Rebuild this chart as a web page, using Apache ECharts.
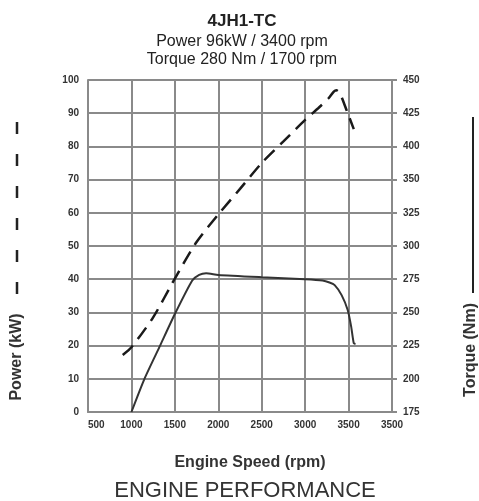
<!DOCTYPE html>
<html>
<head>
<meta charset="utf-8">
<script src="https://cdn.jsdelivr.net/npm/echarts@6/dist/echarts.min.js"></script>
<style>
html,body{margin:0;padding:0;background:#fff;}
#chart{width:479px;height:501px;}
</style>
</head>
<body>
<div id="chart"></div>
<script>
// Tick labels (as printed on the original chart)
const rpmTicks = ['500','1000','1500','2000','2500','3000','3500','3500'];
const powerTicks = ['0','10','20','30','40','50','60','70','80','90','100'];
const torqueTicks = ['175','200','225','250','275','300','325','350','400','425','450'];

// Power curve (kW) vs engine speed (rpm)
const powerRpm = [900, 1000, 1250, 1500, 1750, 2000, 2250, 2500, 2750, 3000, 3150, 3270, 3330, 3360, 3400, 3480, 3560];
const powerKw  = [17.2, 19.5, 28.5, 40.2, 51.2, 59.5, 67.2, 75.0, 81.5, 88.0, 91.5, 94.5, 96.5, 96.9, 96.0, 90.7, 85.2];

// Torque curve vs engine speed, in positions of the chart's shared vertical scale
// (right-hand torque labels are printed against the same grid lines)
const torqueRpm = [1000, 1150, 1330, 1500, 1700, 1780, 1860, 2000, 2500, 3000, 3200, 3280, 3340, 3420, 3490, 3530, 3560, 3580];
const torqueVal = [0, 10, 20, 29.5, 39.6, 41.3, 41.8, 41.3, 40.6, 40.0, 39.6, 39.0, 38.2, 35.2, 30.7, 25.7, 20.7, 20.5];

const zip = (a, b) => a.map((x, i) => [x, b[i]]);

const chart = echarts.init(document.getElementById('chart'), null, {renderer: 'canvas'});
const FONT = 'Liberation Sans, Arial, sans-serif';
const gridColor = '#8a8a8a';
const labelStyle = {color: '#333', fontSize: 10, fontWeight: 'bold', fontFamily: FONT};

chart.setOption({
  animation: false,
  backgroundColor: '#fff',
  title: [
    {text: '4JH1-TC', left: 237, top: 8, textAlign: 'center',
     textStyle: {fontSize: 17, fontWeight: 'bold', color: '#222', fontFamily: FONT}},
    {text: 'Power 96kW / 3400 rpm', left: 237, top: 29, textAlign: 'center',
     textStyle: {fontSize: 16, fontWeight: 'normal', color: '#222', fontFamily: FONT}},
    {text: 'Torque 280 Nm / 1700 rpm', left: 237, top: 47, textAlign: 'center',
     textStyle: {fontSize: 16, fontWeight: 'normal', color: '#222', fontFamily: FONT}},
    {text: 'Engine Speed (rpm)', left: 245, top: 450, textAlign: 'center',
     textStyle: {fontSize: 16, fontWeight: 'bold', color: '#333', fontFamily: FONT}},
    {text: 'ENGINE PERFORMANCE', left: 240, top: 475, textAlign: 'center',
     textStyle: {fontSize: 22, fontWeight: 'normal', color: '#333', fontFamily: FONT}}
  ],
  grid: {left: 88, right: 87, top: 80, bottom: 89, containLabel: false},
  xAxis: {
    type: 'value', min: 500, max: 4000, interval: 500,
    axisLine: {show: true, lineStyle: {color: gridColor, width: 2}},
    axisTick: {show: false},
    splitLine: {show: true, lineStyle: {color: gridColor, width: 2}},
    axisLabel: Object.assign({margin: 8, alignMinLabel: 'left',
      formatter: v => rpmTicks[Math.round((v - 500) / 500)]}, labelStyle)
  },
  yAxis: [
    {
      type: 'value', min: 0, max: 100, interval: 10, position: 'left',
      axisLine: {show: true, lineStyle: {color: gridColor, width: 2}},
      axisTick: {show: false},
      splitLine: {show: true, lineStyle: {color: gridColor, width: 2}},
      axisLabel: Object.assign({margin: 9, formatter: v => powerTicks[Math.round(v / 10)]}, labelStyle)
    },
    {
      type: 'value', min: 0, max: 100, interval: 10, position: 'right',
      axisLine: {show: true, lineStyle: {color: gridColor, width: 2}},
      axisTick: {show: true, inside: false, length: 5, lineStyle: {color: gridColor, width: 2}},
      splitLine: {show: false},
      axisLabel: Object.assign({margin: 11, formatter: v => torqueTicks[Math.round(v / 10)]}, labelStyle)
    }
  ],
  series: [
    {
      name: 'Power (kW)', type: 'line', yAxisIndex: 0, showSymbol: false, smooth: 0.25,
      data: zip(powerRpm, powerKw),
      lineStyle: {color: '#1a1a1a', width: 2.5, type: [14, 8]}
    },
    {
      name: 'Torque (Nm)', type: 'line', yAxisIndex: 1, showSymbol: false, smooth: 0.2,
      data: zip(torqueRpm, torqueVal),
      lineStyle: {color: '#333', width: 2}
    }
  ],
  graphic: [
    {type: 'line', shape: {x1: 17, y1: 122, x2: 17, y2: 294},
     style: {stroke: '#222', lineWidth: 2.5, lineDash: [12, 20]}},
    {type: 'text', x: 17, y: 357, rotation: Math.PI / 2,
     style: {text: 'Power (kW)', fill: '#333', font: 'bold 16px "Liberation Sans", Arial, sans-serif',
             textAlign: 'center', textVerticalAlign: 'middle'}},
    {type: 'line', shape: {x1: 473, y1: 117, x2: 473, y2: 293},
     style: {stroke: '#222', lineWidth: 2}},
    {type: 'text', x: 471, y: 350, rotation: Math.PI / 2,
     style: {text: 'Torque (Nm)', fill: '#333', font: 'bold 16px "Liberation Sans", Arial, sans-serif',
             textAlign: 'center', textVerticalAlign: 'middle'}}
  ]
});
</script>
</body>
</html>
